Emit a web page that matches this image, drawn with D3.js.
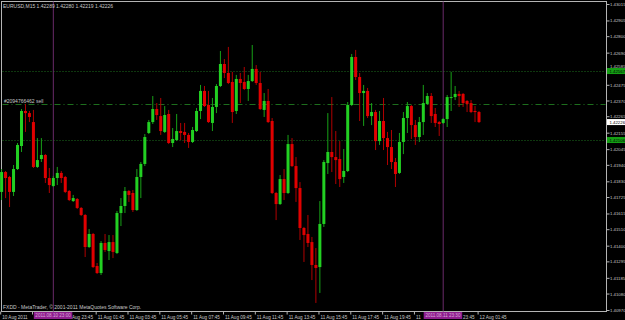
<html>
<head>
	<script src="https://d3js.org/d3.v7.min.js"></script>
	<style>
	body { margin: 0; background: #000; }
	svg text { font-family: "Liberation Sans", Arial, sans-serif; }
	</style>
</head>
<body>

<script>
// EURUSD M15, one bar every 15 minutes from 10 Aug 2011 19:45
var symbol = "EURUSD,M15";
var lastQuote = ["1.42289", "1.42280", "1.42219", "1.42226"];

var openP = [
	1.41759,1.41892,1.41859,1.41759,1.41912,1.42066,1.42300,1.42286,1.42226,1.41926,
	1.41979,1.42006,1.41852,1.41799,1.41852,1.41886,1.41859,1.41765,1.41698,1.41712,
	1.41652,1.41605,1.41391,1.41478,1.41264,1.41217,1.41418,1.41364,1.41424,1.41351,
	1.41618,1.41665,1.41765,1.41752,1.41638,1.41859,1.41946,1.42153,1.42226,1.42313,1.42266,
	1.42160,1.42280,1.42086,1.42106,1.42166,1.42160,1.42140,1.42093,1.42166,1.42300,
	1.42434,1.42340,1.42220,1.42327,1.42467,1.42614,1.42554,1.42494,1.42300,1.42514,
	1.42494,1.42447,1.42500,1.42581,1.42487,1.42307,1.42367,1.42233,1.41752,1.41678,
	1.41845,1.41752,1.42079,1.41932,1.41785,1.41518,1.41478,1.41424,1.41271,1.41257,
	1.41545,1.41952,1.42026,1.41992,1.41979,1.41859,1.41899,1.42340,1.42661,1.42527,
	1.42420,1.42434,1.42266,1.42293,1.42099,1.42233,1.42119,1.42059,1.41959,1.41886,
	1.42093,1.42253,1.42333,1.42206,1.42126,1.42226,1.42347,1.42400,1.42280,1.42226,
	1.42220,1.42246,1.42387,1.42393,1.42414,1.42414,1.42367,1.42353,1.42300,1.42293
];
var highP = [
	1.41912,1.41899,1.41866,1.41939,1.42086,1.42313,1.42347,1.42300,1.42307,1.42119,
	1.42119,1.42012,1.41919,1.41866,1.41926,1.41899,1.41866,1.41772,1.41739,1.41718,
	1.41658,1.41611,1.41511,1.41485,1.41284,1.41431,1.41478,1.41471,1.41471,1.41632,
	1.41718,1.41792,1.41772,1.41772,1.41912,1.41959,1.42146,1.42240,1.42400,1.42353,1.42387,
	1.42333,1.42307,1.42186,1.42280,1.42220,1.42220,1.42153,1.42193,1.42320,1.42474,
	1.42467,1.42434,1.42387,1.42480,1.42701,1.42647,1.42728,1.42561,1.42541,1.42554,
	1.42594,1.42541,1.42741,1.42607,1.42561,1.42420,1.42447,1.42253,1.41759,1.41872,
	1.41912,1.42140,1.42119,1.41992,1.41825,1.41525,1.41605,1.41458,1.41384,1.41698,
	1.41972,1.42286,1.42393,1.42166,1.42099,1.42046,1.42360,1.42681,1.42708,1.42554,
	1.42474,1.42454,1.42353,1.42307,1.42300,1.42387,1.42160,1.42173,1.41986,1.42153,
	1.42293,1.42360,1.42340,1.42240,1.42260,1.42474,1.42420,1.42420,1.42320,1.42233,
	1.42253,1.42407,1.42561,1.42467,1.42434,1.42420,1.42373,1.42373,1.42333,1.42300
];
var lowP = [
	1.41705,1.41718,1.41658,1.41732,1.41906,1.42026,1.42160,1.42226,1.41919,1.41919,
	1.41959,1.41819,1.41752,1.41792,1.41805,1.41819,1.41752,1.41698,1.41692,1.41645,
	1.41598,1.41324,1.41384,1.41251,1.41211,1.41204,1.41358,1.41304,1.41317,1.41344,
	1.41531,1.41618,1.41692,1.41625,1.41632,1.41718,1.41932,1.42146,1.42213,1.42240,1.42140,
	1.42153,1.42079,1.42059,1.42099,1.42106,1.42086,1.42053,1.42086,1.42160,1.42246,
	1.42327,1.42220,1.42166,1.42286,1.42460,1.42520,1.42480,1.42220,1.42280,1.42353,
	1.42440,1.42367,1.42494,1.42474,1.42307,1.42260,1.42220,1.41745,1.41571,1.41672,
	1.41705,1.41745,1.41926,1.41692,1.41438,1.41291,1.41391,1.41170,1.41017,1.41084,
	1.41525,1.41879,1.41892,1.41812,1.41792,1.41819,1.41892,1.42333,1.42507,1.42233,
	1.42200,1.42253,1.42206,1.42039,1.42073,1.42039,1.41939,1.41912,1.41792,1.41879,
	1.42012,1.42153,1.42113,1.42073,1.42093,1.42140,1.42340,1.42220,1.42193,1.42133,
	1.42213,1.42193,1.42300,1.42373,1.42327,1.42327,1.42293,1.42286,1.42226,1.42220
];
var closeP = [
	1.41892,1.41852,1.41759,1.41912,1.42073,1.42300,1.42286,1.42260,1.41926,1.41972,
	1.42006,1.41852,1.41805,1.41852,1.41886,1.41852,1.41759,1.41705,1.41718,1.41652,
	1.41605,1.41391,1.41478,1.41257,1.41217,1.41418,1.41371,1.41424,1.41358,1.41618,
	1.41665,1.41765,1.41739,1.41638,1.41859,1.41946,1.42126,1.42226,1.42313,1.42273,1.42166,
	1.42273,1.42086,1.42113,1.42166,1.42153,1.42140,1.42093,1.42173,1.42300,1.42434,
	1.42333,1.42226,1.42327,1.42467,1.42614,1.42554,1.42487,1.42293,1.42514,1.42487,
	1.42447,1.42500,1.42581,1.42487,1.42313,1.42367,1.42226,1.41752,1.41678,1.41845,
	1.41752,1.42079,1.41932,1.41785,1.41518,1.41471,1.41418,1.41271,1.41251,1.41545,
	1.41959,1.42026,1.41992,1.41972,1.41845,1.41899,1.42340,1.42661,1.42527,1.42420,
	1.42434,1.42266,1.42293,1.42099,1.42233,1.42119,1.42059,1.41959,1.41879,1.42093,
	1.42253,1.42333,1.42206,1.42126,1.42226,1.42353,1.42400,1.42266,1.42220,1.42213,
	1.42246,1.42393,1.42393,1.42414,1.42400,1.42353,1.42347,1.42293,1.42293,1.42226
];

var priceTicks = [1.43015,1.42905,1.42800,1.42690,1.42585,1.42475,1.42370,1.42265,1.42155,1.42045,
	1.41940,1.41830,1.41725,1.41615,1.41510,1.41400,1.41295,1.41185,1.41080,1.40970];

var timeIdx = [0,8,16,24,32,40,48,56,64,72,80,88,96,104,112,120];
var timeText = ["10 Aug 2011","10 Aug 21:45","10 Aug 23:45","11 Aug 01:45","11 Aug 03:45","11 Aug 05:45",
	"11 Aug 07:45","11 Aug 09:45","11 Aug 11:45","11 Aug 13:45","11 Aug 15:45","11 Aug 17:45",
	"11 Aug 19:45","11 Aug 21:45","11 Aug 23:45","12 Aug 01:45"];

var levelLines = [1.42567, 1.42106];
var orderPrice = 1.42344;
var orderText = "#2094766462 sell";
var vLineIdx = [13, 111];
var vLineText = ["2011.08.10 23:00", "2011.08.11 23:30"];

var w = 625, h = 320;
var plotL = 1.5, plotR = 606.5, plotT = 1.5, plotB = 311.5;

var xScale = d3.scaleLinear().domain([0, openP.length - 1]).range([1.6, 479]);
var yScale = d3.scaleLinear().domain([1.40970, 1.43015]).range([310, 4]);

var svg = d3.select("body").append("svg").attr("width", w).attr("height", h)
	.style("background", "#000");

// frame
svg.append("rect").attr("x", plotL).attr("y", plotT)
	.attr("width", plotR - plotL).attr("height", plotB - plotT)
	.attr("fill", "none").attr("stroke", "#b4b4b4").attr("stroke-width", 1);

// dotted levels
svg.selectAll(".lvl").data(levelLines).enter().append("line")
	.attr("x1", plotL + 1).attr("x2", plotR - 1)
	.attr("y1", function(d){ return Math.round(yScale(d)) + 0.5; })
	.attr("y2", function(d){ return Math.round(yScale(d)) + 0.5; })
	.attr("stroke", "#1d6e1d").attr("stroke-dasharray", "1,2");

// order line
var oy = Math.round(yScale(orderPrice)) + 0.5;
svg.append("line").attr("x1", plotL + 1).attr("x2", plotR - 1).attr("y1", oy).attr("y2", oy)
	.attr("stroke", "#1d6e1d").attr("stroke-dasharray", "6,3,1,3");
svg.append("text").attr("x", 4).attr("y", oy - 1.5).text(orderText)
	.attr("fill", "#c8c8c8").attr("font-size", 5);

// vertical lines
svg.selectAll(".vl").data(vLineIdx).enter().append("line")
	.attr("x1", function(d){ return xScale(d); }).attr("x2", function(d){ return xScale(d); })
	.attr("y1", plotT).attr("y2", plotB)
	.attr("stroke", "#6a2a6a");

// candles
var idx = d3.range(openP.length);
svg.selectAll(".wick").data(idx).enter().append("line")
	.attr("x1", function(i){ return xScale(i); }).attr("x2", function(i){ return xScale(i); })
	.attr("y1", function(i){ return yScale(highP[i]); })
	.attr("y2", function(i){ return yScale(lowP[i]); })
	.attr("stroke", function(i){ return closeP[i] >= openP[i] ? "#17a017" : "#b00000"; });

svg.selectAll(".body").data(idx).enter().append("rect")
	.attr("x", function(i){ return xScale(i) - 1.5; })
	.attr("width", 3)
	.attr("y", function(i){ return yScale(Math.max(openP[i], closeP[i])); })
	.attr("height", function(i){ return Math.max(1, Math.abs(yScale(openP[i]) - yScale(closeP[i]))); })
	.attr("fill", function(i){ return closeP[i] >= openP[i] ? "#22d022" : "#e00000"; });

// price axis
var boxPrices = levelLines.concat([closeP[closeP.length - 1]]);
var yAxis = d3.axisRight(yScale).tickValues(priceTicks).tickSize(3).tickPadding(0.5)
	.tickFormat(d3.format(".5f"));
var ga = svg.append("g").attr("transform", "translate(" + plotR + ",0)").call(yAxis);
ga.select(".domain").remove();
ga.selectAll("line").attr("stroke", "#b4b4b4");
ga.selectAll("text").attr("fill", "#c8c8c8").attr("font-size", 4.3)
	.attr("dy", function(d){
		// push a label clear of a price box that sits on it
		var off = 0;
		boxPrices.forEach(function(p){
			var gap = yScale(d) - yScale(p);
			if (Math.abs(gap) < 5.5) off = (gap < 0 ? -5.5 : 5.5) - gap;
		});
		return (off + 1.5) + "px";
	});

// price boxes
function priceBox(p, fill, color) {
	var yy = yScale(p);
	svg.append("rect").attr("x", plotR + 0.5).attr("y", yy - 3).attr("width", w - plotR).attr("height", 6)
		.attr("fill", fill);
	svg.append("text").attr("x", plotR + 3).attr("y", yy + 1.6).text(d3.format(".5f")(p))
		.attr("fill", color).attr("font-size", 4.3);
}
levelLines.forEach(function(p){ priceBox(p, "#14a014", "#000"); });
priceBox(closeP[closeP.length - 1], "#ffffff", "#000");

// vertical line label boxes
var vBoxes = vLineIdx.map(function(d){ return [xScale(d) - 19.5, xScale(d) + 19]; });

// time axis
var xAxis = d3.axisBottom(xScale).tickValues(timeIdx).tickSize(3).tickPadding(1)
	.tickFormat(function(d, i){ return timeText[i]; });
var gx = svg.append("g").attr("transform", "translate(-1.4," + plotB + ")").call(xAxis);
gx.select(".domain").remove();
gx.selectAll("line").attr("stroke", "#b4b4b4");
gx.selectAll("text").attr("fill", "#c8c8c8").attr("font-size", 4.6)
	.attr("text-anchor", "start").attr("x", 1.5)
	.each(function(d){
		// cut the part of a label that a line box hides
		var t = d3.select(this), s = t.text();
		var x0 = xScale(d) - 1.4 + 1.5;
		var len = this.getComputedTextLength();
		vBoxes.forEach(function(b){
			if (x0 < b[1] && x0 + len > b[0]) {
				if (x0 >= b[0]) {
					var k = 0;
					while (k < s.length && x0 + t.node().getSubStringLength(0, k + 1) <= b[1] + 1) k++;
					var shift = t.node().getSubStringLength(0, k);
					t.text(s.slice(k)).attr("x", 1.5 + shift);
				} else {
					var n = s.length;
					while (n > 0 && x0 + t.node().getSubStringLength(0, n) > b[0] - 0.5) n--;
					t.text(s.slice(0, n));
				}
			}
		});
	});

vLineIdx.forEach(function(d, i){
	var b = vBoxes[i];
	svg.append("rect").attr("x", b[0]).attr("y", plotB + 0.5).attr("width", b[1] - b[0]).attr("height", 7)
		.attr("fill", "#8e1e8e");
	svg.append("text").attr("x", (b[0] + b[1]) / 2).attr("y", plotB + 5.8).attr("text-anchor", "middle")
		.text(vLineText[i]).attr("fill", "#d8a8d8").attr("font-size", 4.6);
});

// title and copyright
svg.append("text").attr("x", 3).attr("y", 8).text(symbol + "  " + lastQuote.join(" "))
	.attr("fill", "#c8c8c8").attr("font-size", 5);
svg.append("text").attr("x", 3).attr("y", 309).text("FXDD - MetaTrader, \u00a9 2001-2011 MetaQuotes Software Corp.")
	.attr("fill", "#c8c8c8").attr("font-size", 5);
</script>

</body>
</html>
